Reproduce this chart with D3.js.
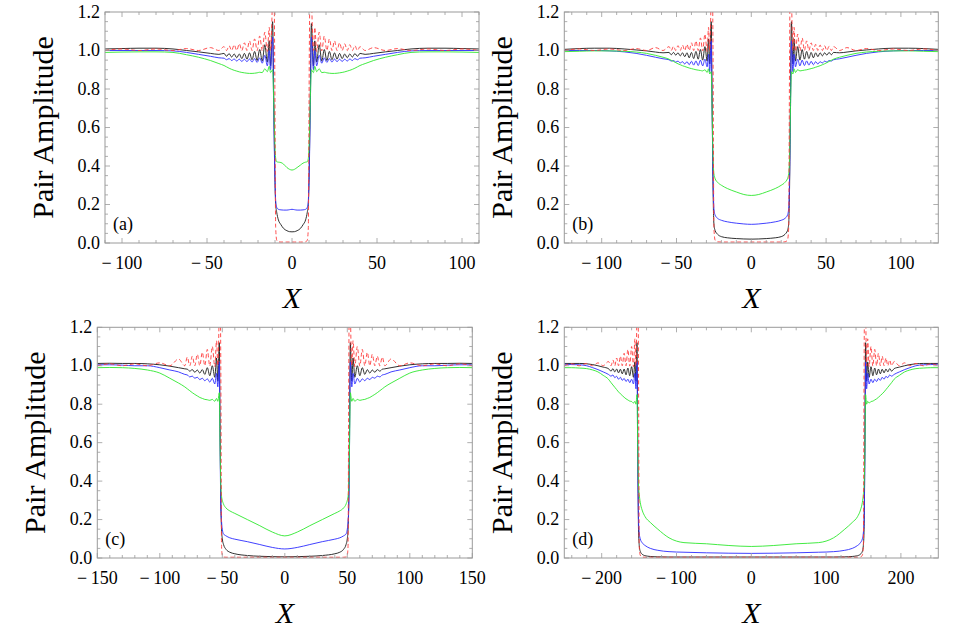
<!DOCTYPE html>
<html><head><meta charset="utf-8">
<script src="https://cdn.jsdelivr.net/npm/d3@7"></script>
<style>
body{margin:0;background:#fff}
svg{display:block}
text{font-family:"Liberation Serif","Times New Roman",serif;fill:#000}
</style>
</head><body>
<svg id="c" width="969" height="631"></svg>
<script>
// ---------------- DATA ----------------
const yTicks = [0, 0.2, 0.4, 0.6, 0.8, 1.0, 1.2];
const yTickLabels = ["0.0","0.2","0.4","0.6","0.8","1.0","1.2"];

// Panel (a)
const xTicksA = [-100,-50,0,50,100];
const xA = [-110,-100,-90,-80,-70,-62,-55,-48,-43,
-40,-38.5,-37,-35.5,-34,-32.5,-31,-29.5,-28,-26.5,-25,-23.5,-22,-20.5,-19,-17.5,-16,-14.5,
-13.4,-12.6,-11.4,
-10.8,-10.2,-9.6,-9,-8,-6.5,-5,-3,-1.5,0,1.5,3,5,6.5,8,9,9.6,10.2,10.8,
11.4,12.6,13.4,
14.5,16,17.5,19,20.5,22,23.5,25,26.5,28,29.5,31,32.5,34,35.5,37,38.5,40,
43,48,55,62,70,80,90,100,110];
const blackA = [1.008,1.01,1.012,1.012,1.008,1.0,0.993,0.985,0.98,
0.985,0.970,0.984,0.966,0.982,0.962,0.982,0.958,0.985,0.955,0.988,0.952,0.995,0.948,1.005,0.945,1.03,0.94,
1.05,0.92,1.15,
0.8,0.42,0.2,0.16,0.12,0.095,0.076,0.064,0.059,0.058,
0.059,0.064,0.076,0.095,0.12,0.16,0.2,0.42,0.8,
1.14,0.92,1.05,
0.94,1.03,0.945,1.005,0.948,0.995,0.952,0.988,0.955,0.985,0.958,0.982,0.962,0.982,0.966,0.984,0.970,0.985,
0.98,0.985,0.993,1.0,1.008,1.012,1.012,1.01,1.008];
const blueA = [1.0,1.0,1.0,1.0,0.998,0.99,0.98,0.97,0.962,
0.96,0.952,0.958,0.948,0.956,0.945,0.955,0.943,0.955,0.942,0.956,0.94,0.958,0.938,0.962,0.934,0.975,0.92,
1.0,0.9,1.07,
0.72,0.4,0.22,0.185,0.175,0.172,0.171,0.171,0.173,0.175,
0.173,0.171,0.171,0.172,0.175,0.185,0.22,0.4,0.72,
1.07,0.9,1.0,
0.92,0.975,0.934,0.962,0.938,0.958,0.94,0.956,0.942,0.955,0.943,0.955,0.945,0.956,0.948,0.958,0.952,0.96,
0.962,0.97,0.98,0.99,0.998,1.0,1.0,1.0,1.0];
const greenA = [0.99,0.992,0.993,0.993,0.99,0.978,0.965,0.948,0.932,
0.922,0.915,0.908,0.902,0.897,0.893,0.889,0.886,0.884,0.882,0.881,0.881,0.882,0.884,0.887,0.885,0.905,0.89,
0.918,0.885,0.9,
0.75,0.55,0.44,0.422,0.42,0.418,0.41,0.392,0.383,0.379,
0.383,0.392,0.405,0.415,0.42,0.422,0.44,0.55,0.75,
0.9,0.885,0.918,
0.89,0.905,0.885,0.887,0.884,0.882,0.881,0.881,0.882,0.884,0.886,0.889,0.893,0.897,0.902,0.908,0.915,0.922,
0.932,0.948,0.965,0.978,0.99,0.993,0.993,0.992,0.99];
const redA = [1.0,1.008,1.0,1.008,1.0,1.01,1.0,1.015,1.0,
1.02,1.0,1.025,1.0,1.03,1.0,1.035,1.0,1.04,1.0,1.05,1.0,1.06,1.0,1.075,0.998,1.095,0.995,
1.12,1.0,1.3,
1.5,1.0,0.08,0.015,0.006,0.005,0.005,0.005,0.005,0.005,
0.005,0.005,0.005,0.005,0.006,0.015,0.08,1.0,1.5,
1.3,1.0,1.12,
0.995,1.095,0.998,1.075,1.0,1.06,1.0,1.05,1.0,1.04,1.0,1.035,1.0,1.03,1.0,1.025,1.0,1.02,
1.0,1.015,1.0,1.01,1.0,1.008,1.0,1.008,1.0];

// Panel (b)
const xTicksB = [-100,-50,0,50,100];
const xB = [-125,-115,-105,-95,-85,-77,-70,-64,-59,
-55,-53.5,-52,-50.5,-49,-47.5,-46,-44.5,-43,-41.5,-40,-38.5,-37,-35.5,-34,-32.5,-31,-29.5,
-28.6,-27.8,-26.8,
-26.2,-25.6,-25,-24.2,-22.5,-20,-16,-10,-5,0,5,10,16,20,22.5,24.2,25,25.6,26.2,
26.8,27.8,28.6,
29.5,31,32.5,34,35.5,37,38.5,40,41.5,43,44.5,46,47.5,49,50.5,52,53.5,55,
59,64,70,77,85,95,105,115,125];
const blackB = [1.006,1.01,1.012,1.012,1.008,1.003,0.998,0.992,0.988,
0.99,0.978,0.99,0.976,0.988,0.972,0.988,0.968,0.988,0.962,0.99,0.958,0.995,0.955,1.005,0.95,1.02,0.945,
1.06,0.93,1.15,
0.75,0.3,0.1,0.065,0.045,0.033,0.027,0.023,0.021,0.02,
0.021,0.023,0.027,0.033,0.045,0.065,0.1,0.3,0.75,
1.15,0.93,1.06,
0.945,1.02,0.95,1.005,0.955,0.995,0.958,0.99,0.962,0.988,0.968,0.988,0.972,0.988,0.976,0.99,0.978,0.99,
0.988,0.992,0.998,1.003,1.008,1.012,1.012,1.01,1.006];
const blueB = [1.0,1.0,1.0,0.998,0.993,0.985,0.975,0.965,0.957,
0.952,0.945,0.948,0.94,0.945,0.935,0.942,0.93,0.942,0.926,0.944,0.924,0.946,0.922,0.95,0.92,0.955,0.915,
0.98,0.89,1.05,
0.7,0.35,0.18,0.145,0.128,0.118,0.11,0.103,0.099,0.097,
0.099,0.103,0.11,0.118,0.128,0.145,0.18,0.35,0.7,
1.05,0.89,0.98,
0.915,0.955,0.92,0.95,0.922,0.946,0.924,0.944,0.926,0.942,0.93,0.942,0.935,0.945,0.94,0.948,0.945,0.952,
0.957,0.965,0.975,0.985,0.993,0.998,1.0,1.0,1.0];
const greenB = [0.994,0.996,0.998,0.998,0.996,0.992,0.985,0.975,0.965,
0.955,0.949,0.943,0.937,0.931,0.926,0.921,0.917,0.913,0.909,0.906,0.903,0.9,0.898,0.896,0.894,0.9,0.886,
0.905,0.878,0.89,
0.7,0.45,0.36,0.335,0.315,0.3,0.283,0.265,0.252,0.247,
0.252,0.265,0.283,0.3,0.315,0.335,0.36,0.45,0.7,
0.89,0.878,0.905,
0.886,0.9,0.894,0.896,0.898,0.9,0.903,0.906,0.909,0.913,0.917,0.921,0.926,0.931,0.937,0.943,0.949,0.955,
0.965,0.975,0.985,0.992,0.996,0.998,0.998,0.996,0.994];
const redB = [1.0,1.008,1.0,1.008,1.0,1.01,1.0,1.015,1.0,
1.02,1.0,1.022,1.0,1.025,1.0,1.028,1.0,1.032,1.0,1.04,1.0,1.05,1.0,1.065,0.998,1.085,0.995,
1.12,1.0,1.3,
1.5,1.0,0.08,0.015,0.006,0.005,0.005,0.005,0.005,0.005,
0.005,0.005,0.005,0.005,0.006,0.015,0.08,1.0,1.5,
1.3,1.0,1.12,
0.995,1.085,0.998,1.065,1.0,1.05,1.0,1.04,1.0,1.032,1.0,1.028,1.0,1.025,1.0,1.022,1.0,1.02,
1.0,1.015,1.0,1.01,1.0,1.008,1.0,1.008,1.0];

// Panel (c)
const xTicksC = [-150,-100,-50,0,50,100,150];
const xC = [-150,-140,-130,-120,-110,-100,-92,-85,-80,
-78,-76,-74,-72,-70,-68,-66,-64,-62,-60,-58,-56,
-54.6,-53.6,-52.4,
-51.8,-51.2,-50.6,-50,-49,-47,-44,-40,-30,-20,-10,0,10,20,30,40,44,47,49,50,50.6,51.2,51.8,
52.4,53.6,54.6,
56,58,60,62,64,66,68,70,72,74,76,78,
80,85,92,100,110,120,130,140,150];
const blackC = [1.012,1.013,1.012,1.012,1.01,1.005,0.998,0.99,0.984,
0.982,0.972,0.98,0.966,0.978,0.962,0.98,0.955,0.99,0.948,1.0,0.94,
1.04,0.92,1.12,
0.7,0.3,0.15,0.1,0.07,0.045,0.03,0.022,0.013,0.009,0.007,0.006,
0.007,0.009,0.013,0.022,0.03,0.045,0.07,0.1,0.15,0.3,0.7,
1.12,0.92,1.04,
0.94,1.0,0.948,0.99,0.955,0.98,0.962,0.978,0.966,0.98,0.972,0.982,
0.984,0.99,0.998,1.005,1.01,1.012,1.012,1.013,1.012];
const blueC = [1.005,1.005,1.003,1.0,1.0,0.99,0.978,0.968,0.955,
0.952,0.942,0.946,0.935,0.94,0.928,0.935,0.922,0.932,0.915,0.935,0.905,
0.96,0.89,1.02,
0.6,0.28,0.19,0.15,0.125,0.115,0.105,0.098,0.085,0.07,0.055,0.047,
0.055,0.07,0.085,0.098,0.105,0.115,0.125,0.15,0.19,0.28,0.6,
1.02,0.89,0.96,
0.905,0.935,0.915,0.932,0.922,0.935,0.928,0.94,0.935,0.946,0.942,0.952,
0.955,0.968,0.978,0.99,1.0,1.0,1.003,1.005,1.005];
const greenC = [0.99,0.991,0.99,0.986,0.978,0.962,0.935,0.91,0.89,
0.88,0.87,0.86,0.851,0.843,0.835,0.83,0.825,0.823,0.82,0.825,0.815,
0.83,0.815,0.86,
0.6,0.38,0.32,0.3,0.28,0.26,0.245,0.232,0.2,0.168,0.135,0.115,
0.135,0.168,0.2,0.232,0.245,0.26,0.28,0.3,0.32,0.38,0.6,
0.86,0.815,0.83,
0.815,0.825,0.82,0.823,0.825,0.83,0.835,0.843,0.851,0.86,0.87,0.88,
0.89,0.91,0.935,0.962,0.978,0.986,0.99,0.991,0.99];
const redC = [1.0,1.01,1.0,1.01,1.0,1.015,1.0,1.035,1.0,
1.045,1.0,1.05,1.0,1.06,1.0,1.07,1.0,1.085,0.998,1.1,0.995,
1.13,1.0,1.3,
1.5,1.0,0.06,0.015,0.005,0.004,0.004,0.004,0.004,0.004,0.004,0.004,
0.004,0.004,0.004,0.004,0.004,0.004,0.005,0.015,0.06,1.0,1.5,
1.3,1.0,1.13,
0.995,1.1,0.998,1.085,1.0,1.07,1.0,1.06,1.0,1.05,1.0,1.045,
1.0,1.035,1.0,1.015,1.0,1.01,1.0,1.01,1.0];

// Panel (d)
const xTicksD = [-200,-100,0,100,200];
const xD = [-250,-240,-230,-220,-212,-205,-198,-191,
-187.5,-185,-182.5,-180,-177.5,-175,-172.5,-170,-167.5,-165,-162.5,-160,-157.5,
-155.6,-154.2,-152.8,
-151.8,-150.8,-149.8,-148.5,-146,-142,-135,-125,-110,-90,-60,-30,0,30,60,90,110,125,135,142,146,148.5,149.8,150.8,151.8,
152.8,154.2,155.6,
157.5,160,162.5,165,167.5,170,172.5,175,177.5,180,182.5,185,187.5,
191,198,205,212,220,230,240,250];
const blackD = [1.012,1.012,1.012,1.01,1.006,1.0,0.993,0.985,
0.972,0.985,0.968,0.983,0.963,0.982,0.958,0.983,0.953,0.988,0.948,0.995,0.94,
1.02,0.92,1.12,
0.6,0.15,0.065,0.035,0.02,0.012,0.008,0.006,0.005,0.005,0.005,0.005,0.005,
0.005,0.005,0.005,0.005,0.006,0.008,0.012,0.02,0.035,0.065,0.15,0.6,
1.12,0.92,1.02,
0.94,0.995,0.948,0.988,0.953,0.983,0.958,0.982,0.963,0.983,0.968,0.985,0.972,
0.985,0.993,1.0,1.006,1.01,1.012,1.012,1.012];
const blueD = [1.008,1.006,1.005,1.0,0.99,0.98,0.968,0.955,
0.946,0.952,0.938,0.945,0.93,0.94,0.924,0.934,0.918,0.93,0.912,0.93,0.905,
0.96,0.88,1.02,
0.5,0.2,0.13,0.1,0.08,0.065,0.05,0.04,0.033,0.03,0.027,0.025,0.024,
0.025,0.027,0.03,0.033,0.04,0.05,0.065,0.08,0.1,0.13,0.2,0.5,
1.02,0.88,0.96,
0.905,0.93,0.912,0.93,0.918,0.934,0.924,0.94,0.93,0.945,0.938,0.952,0.946,
0.955,0.968,0.98,0.99,1.0,1.005,1.006,1.008];
const greenD = [0.99,0.99,0.988,0.985,0.978,0.968,0.95,0.93,
0.912,0.9,0.888,0.876,0.864,0.854,0.845,0.836,0.828,0.822,0.816,0.814,0.806,
0.815,0.8,0.85,
0.55,0.38,0.33,0.29,0.25,0.215,0.185,0.15,0.105,0.08,0.074,0.065,0.06,
0.065,0.074,0.08,0.105,0.15,0.185,0.215,0.25,0.29,0.33,0.38,0.55,
0.85,0.8,0.815,
0.806,0.814,0.816,0.822,0.828,0.836,0.845,0.854,0.864,0.876,0.888,0.9,0.912,
0.93,0.95,0.968,0.978,0.985,0.988,0.99,0.99];
const redD = [1.0,1.01,1.0,1.012,1.0,1.015,1.0,1.022,
1.0,1.03,1.0,1.04,1.0,1.05,1.0,1.065,1.0,1.085,0.998,1.1,0.995,
1.14,1.0,1.3,
1.5,1.0,0.06,0.015,0.005,0.004,0.004,0.004,0.004,0.004,0.004,0.004,0.004,
0.004,0.004,0.004,0.004,0.004,0.004,0.004,0.005,0.015,0.06,1.0,1.5,
1.3,1.0,1.14,
0.995,1.1,0.998,1.085,1.0,1.065,1.0,1.05,1.0,1.04,1.0,1.03,1.0,
1.022,1.0,1.015,1.0,1.012,1.0,1.01,1.0];

// ---------------- LAYOUT ----------------
const panels = [
  {label:"(a)", xs:xA, series:[blackA,blueA,greenA,redA], domain:[-110,110], major:xTicksA, minor:10, box:[105,12,479,243]},
  {label:"(b)", xs:xB, series:[blackB,blueB,greenB,redB], domain:[-125,125], major:xTicksB, minor:10, box:[564.3,12,938.3,243]},
  {label:"(c)", xs:xC, series:[blackC,blueC,greenC,redC], domain:[-150,150], major:xTicksC, minor:10, box:[97.3,327.3,472.3,558]},
  {label:"(d)", xs:xD, series:[blackD,blueD,greenD,redD], domain:[-250,250], major:xTicksD, minor:20, box:[564.3,327.3,938.3,558]}
];
const styles = [
  {stroke:"#1a1a1a", width:0.9, dash:null},
  {stroke:"#2b2bff", width:0.9, dash:null},
  {stroke:"#2ee82e", width:0.9, dash:null},
  {stroke:"#ff3b3b", width:0.9, dash:"4,2.6"}
];
const frameColor = "#9a9a9a";

const svg = d3.select("#c");
const defs = svg.append("defs");
const fmtX = d => d < 0 ? "\u2212\u2009" + Math.abs(d) : String(d);

panels.forEach((p, i) => {
  p.series.forEach(s => { if (s.length !== p.xs.length) throw new Error("length mismatch panel " + i + ": " + s.length + " vs " + p.xs.length); });
  const [L, T, R, B] = p.box;
  const x = d3.scaleLinear().domain(p.domain).range([L, R]);
  const y = d3.scaleLinear().domain([0, 1.2]).range([B, T]);
  const g = svg.append("g");

  const cid = "clip" + i;
  defs.append("clipPath").attr("id", cid).append("rect")
    .attr("x", L).attr("y", T).attr("width", R - L).attr("height", B - T);

  // curves
  const line = d3.line().x((d, j) => x(p.xs[j])).y(d => y(d)).curve(d3.curveMonotoneX);
  const cg = g.append("g").attr("clip-path", `url(#${cid})`);
  p.series.forEach((s, k) => {
    cg.append("path").datum(s).attr("d", line)
      .attr("fill", "none").attr("stroke", styles[k].stroke)
      .attr("stroke-width", styles[k].width)
      .attr("stroke-dasharray", styles[k].dash)
      .attr("stroke-linejoin", "round");
  });

  // minor ticks
  const minorX = d3.range(Math.ceil(p.domain[0] / p.minor) * p.minor, p.domain[1] + 1e-9, p.minor)
    .filter(v => !p.major.some(m => Math.abs(m - v) < 1e-9));
  const minorY = d3.range(0, 1.2001, 0.05).filter(v => !yTicks.some(m => Math.abs(m - v) < 1e-6));
  const tg = g.append("g").attr("stroke", frameColor).attr("stroke-width", 0.8);
  const ML = 5, mL = 3;
  minorX.forEach(v => {
    tg.append("line").attr("x1", x(v)).attr("x2", x(v)).attr("y1", B).attr("y2", B - mL);
    tg.append("line").attr("x1", x(v)).attr("x2", x(v)).attr("y1", T).attr("y2", T + mL);
  });
  minorY.forEach(v => {
    tg.append("line").attr("y1", y(v)).attr("y2", y(v)).attr("x1", L).attr("x2", L + mL);
    tg.append("line").attr("y1", y(v)).attr("y2", y(v)).attr("x1", R).attr("x2", R - mL);
  });
  p.major.forEach(v => {
    tg.append("line").attr("x1", x(v)).attr("x2", x(v)).attr("y1", B).attr("y2", B - ML);
    tg.append("line").attr("x1", x(v)).attr("x2", x(v)).attr("y1", T).attr("y2", T + ML);
  });
  yTicks.forEach(v => {
    tg.append("line").attr("y1", y(v)).attr("y2", y(v)).attr("x1", L).attr("x2", L + ML);
    tg.append("line").attr("y1", y(v)).attr("y2", y(v)).attr("x1", R).attr("x2", R - ML);
  });

  // frame
  g.append("rect").attr("x", L).attr("y", T).attr("width", R - L).attr("height", B - T)
    .attr("fill", "none").attr("stroke", frameColor).attr("stroke-width", 1);

  // tick labels
  p.major.forEach(v => {
    g.append("text").attr("x", x(v)).attr("y", B + 25.5).attr("text-anchor", "middle")
      .attr("font-size", 18).text(fmtX(v));
  });
  yTicks.forEach((v, k) => {
    g.append("text").attr("x", L - 5).attr("y", y(v) + 5.5).attr("text-anchor", "end")
      .attr("font-size", 18).text(yTickLabels[k]);
  });

  // axis labels
  g.append("text").attr("transform", `translate(${L - 52},${(T + B) / 2}) rotate(-90)`)
    .attr("text-anchor", "middle").attr("font-size", 30).text("Pair Amplitude");
  g.append("text").attr("x", (L + R) / 2).attr("y", B + 64.5).attr("text-anchor", "middle")
    .attr("font-size", 30).attr("font-style", "italic").text("X");

  // panel label
  g.append("text").attr("x", L + 8).attr("y", B - 13.5).attr("font-size", 18).text(p.label);
});
</script>
</body></html>
